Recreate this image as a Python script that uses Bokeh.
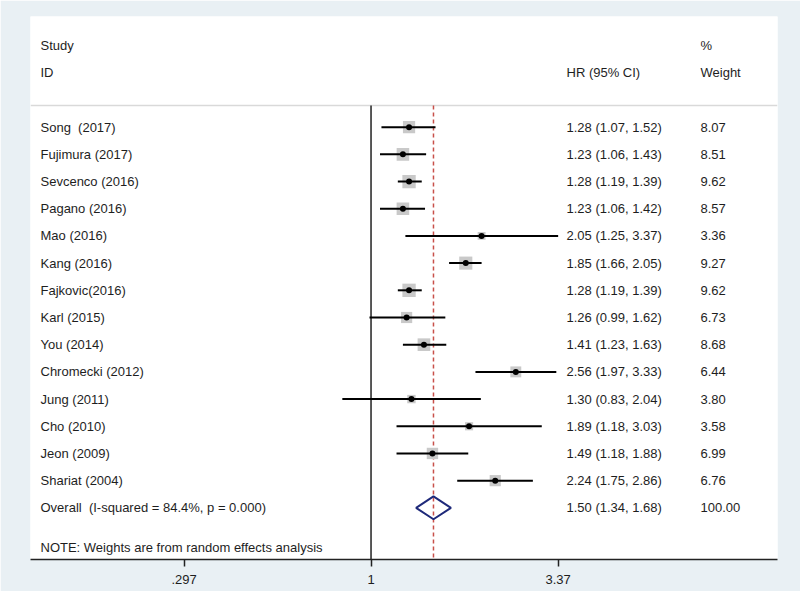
import numpy as np
from bokeh.plotting import figure
from bokeh.models import Range1d, LinearScale, FixedTicker
from bokeh.core.properties import value
from bokeh.embed import file_html
from bokeh.resources import INLINE

# ---------------- data ----------------
studies = ["Song\u00a0 (2017)", "Fujimura (2017)", "Sevcenco (2016)", "Pagano (2016)",
           "Mao (2016)", "Kang (2016)", "Fajkovic(2016)", "Karl (2015)", "You (2014)",
           "Chromecki (2012)", "Jung (2011)", "Cho (2010)", "Jeon (2009)", "Shariat (2004)"]
hr = [1.28, 1.23, 1.28, 1.23, 2.05, 1.85, 1.28, 1.26, 1.41, 2.56, 1.30, 1.89, 1.49, 2.24]
ci_low = [1.07, 1.06, 1.19, 1.06, 1.25, 1.66, 1.19, 0.99, 1.23, 1.97, 0.83, 1.18, 1.18, 1.75]
ci_high = [1.52, 1.43, 1.39, 1.42, 3.37, 2.05, 1.39, 1.62, 1.63, 3.33, 2.04, 3.03, 1.88, 2.86]
weight = [8.07, 8.51, 9.62, 8.57, 3.36, 9.27, 9.62, 6.73, 8.68, 6.44, 3.80, 3.58, 6.99, 6.76]

overall_label = "Overall\u00a0 (I-squared = 84.4%, p = 0.000)"
overall_hr = 1.50
overall_low = 1.34
overall_high = 1.68
overall_weight = 100.00

note_text = "NOTE: Weights are from random effects analysis"
x_ticks = [0.297, 1, 3.37]
tick_labels = [".297", "1", "3.37"]

# ---------------- layout ----------------
FONT = value("Liberation Sans")
FS = "13px"
TXT = "#1e1e1e"

rows = list(range(len(studies)))
overall_row = len(studies)
note_row = overall_row + 1.45
sep_row = -0.8
bottom_row = 15.9

p = figure(frame_width=747, frame_height=543,
           x_axis_type="log", x_range=Range1d(0.1096, 14.0),
           y_range=Range1d(bottom_row, -4.07),
           output_backend="svg", toolbar_location=None,
           min_border_left=30, min_border_right=23, min_border_top=16, min_border_bottom=32,
           y_axis_location=None)
p.extra_x_ranges = {"px": Range1d(0, 747)}
p.extra_x_scales = {"px": LinearScale()}
p.xgrid.visible = False
p.ygrid.visible = False
p.outline_line_color = None
p.background_fill_color = "white"
p.border_fill_color = "#e9f0f4"

# header separator
p.segment(x0=[0], x1=[747], y0=[sep_row], y1=[sep_row], x_range_name="px",
          line_color="#d9d9d9", line_width=1.5)

# null line and overall line
p.segment(x0=[1], x1=[1], y0=[sep_row], y1=[bottom_row], line_color="#222222", line_width=1.5)
p.segment(x0=[overall_hr], x1=[overall_hr], y0=[sep_row], y1=[bottom_row],
          line_color="#c8504a", line_width=1.5, line_dash="4 3")

# weight boxes
sizes = np.sqrt(np.array(weight)) * 4.3
p.scatter(x=hr, y=rows, size=sizes, marker="square", fill_color="#c9c9c9", line_color=None)

# CIs
p.segment(x0=ci_low, x1=ci_high, y0=rows, y1=rows, line_color="black", line_width=2)
p.scatter(x=hr, y=rows, size=6, marker="circle", fill_color="black", line_color=None)

# overall diamond
h = 0.42
p.patch(x=[overall_low, overall_hr, overall_high, overall_hr],
        y=[overall_row, overall_row - h, overall_row, overall_row + h],
        fill_alpha=0, line_color="#1f2a7a", line_width=2)

# texts
def txt(x, y, t, **kw):
    p.text(x=x, y=y, text=t, x_range_name="px", text_baseline="middle",
           text_font=FONT, text_font_size=FS, text_color=TXT, **kw)

txt([10, 10], [-3, -2], ["Study", "ID"])
txt([536], [-2], ["HR (95% CI)"])
txt([670, 670], [-3, -2], ["%", "Weight"])

txt([10] * len(studies), rows, studies)
hr_txt = [f"{a:.2f} ({b:.2f}, {c:.2f})" for a, b, c in zip(hr, ci_low, ci_high)]
txt([536] * len(studies), rows, hr_txt)
txt([670] * len(studies), rows, [f"{w:.2f}" for w in weight])

txt([10], [overall_row], [overall_label])
txt([536], [overall_row], [f"{overall_hr:.2f} ({overall_low:.2f}, {overall_high:.2f})"])
txt([670], [overall_row], [f"{overall_weight:.2f}"])
txt([10], [note_row], [note_text])

# axis
ax = p.xaxis[0]
ax.ticker = FixedTicker(ticks=x_ticks, minor_ticks=[])
ax.major_label_overrides = dict(zip(x_ticks, tick_labels))
ax.axis_line_color = "#222222"
ax.axis_line_width = 1.5
ax.major_tick_line_color = "#222222"
ax.major_tick_line_width = 1.5
ax.major_tick_out = 7
ax.major_tick_in = 0
ax.minor_tick_out = 0
ax.minor_tick_in = 0
ax.major_label_standoff = 8
ax.major_label_text_font = "Liberation Sans"
ax.major_label_text_font_size = FS
ax.major_label_text_color = TXT

open("out.html", "w").write(file_html(p, INLINE))
